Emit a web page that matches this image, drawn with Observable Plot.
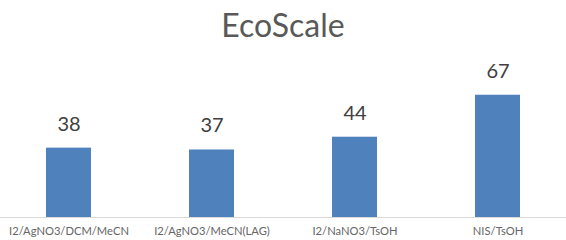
<!DOCTYPE html>
<html>
<head>
<meta charset="utf-8">
<script src="https://cdn.jsdelivr.net/npm/d3@7"></script>
<script src="https://cdn.jsdelivr.net/npm/@observablehq/plot@0.6"></script>
<style>
  html, body { margin: 0; padding: 0; background: #fff; }
  #wrap { width: 566px; }
  #title { height: 50px; line-height: 50px; font-family: Lato, sans-serif; font-size: 32px; color: #595959; text-align: center; }
  svg { display: block; }
</style>
</head>
<body>
<div id="wrap">
  <div id="title">EcoScale</div>
  <div id="chart"></div>
</div>
<script>
const categories = ["I2/AgNO3/DCM/MeCN", "I2/AgNO3/MeCN(LAG)", "I2/NaNO3/TsOH", "NIS/TsOH"];
const values = [38, 37, 44, 67];

const data = categories.map((c, i) => ({category: c, value: values[i]}));

const chart = Plot.plot({
  width: 566,
  height: 190,
  marginTop: 21,
  marginBottom: 23,
  marginLeft: 0,
  marginRight: 0,
  style: {fontFamily: "Lato, sans-serif", background: "#fff"},
  x: {
    type: "band",
    domain: categories,
    range: [-3.85, 569.35],
    paddingInner: 0.686,
    paddingOuter: 0.343,
    label: null
  },
  y: {domain: [0, 80], axis: null},
  marks: [
    Plot.barY(data, {x: "category", y: "value", fill: "#4F81BD"}),
    Plot.ruleY([0], {stroke: "#d9d9d9", strokeWidth: 1}),
    Plot.text(data, {x: "category", y: "value", text: d => String(d.value), dy: -24, fontSize: 20, fill: "#404040"}),
    Plot.axisX({tickSize: 0, tickPadding: 10, fontSize: 11.2, color: "#666666", label: null})
  ]
});
document.getElementById("chart").appendChild(chart);
</script>
</body>
</html>
